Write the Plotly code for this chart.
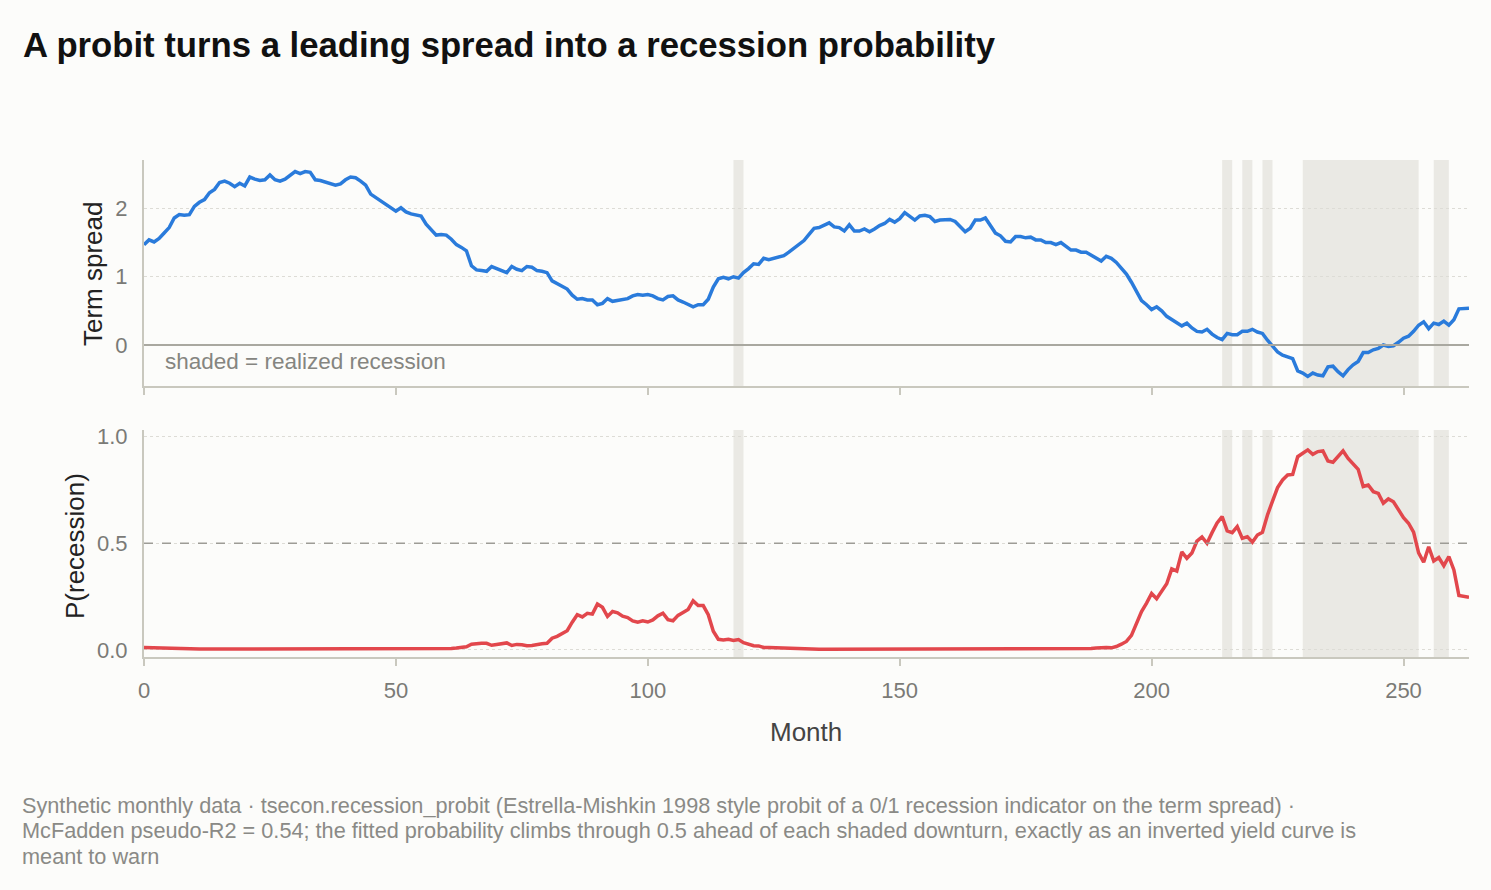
import plotly.graph_objects as go
from plotly.subplots import make_subplots

months = list(range(264))

term_spread = [
    1.47, 1.54, 1.51, 1.56, 1.64, 1.72, 1.86, 1.91, 1.90, 1.91,
    2.03, 2.09, 2.13, 2.23, 2.28, 2.38, 2.40, 2.37, 2.32, 2.37,
    2.33, 2.46, 2.43, 2.41, 2.42, 2.49, 2.42, 2.40, 2.43, 2.48,
    2.54, 2.51, 2.54, 2.53, 2.42, 2.41, 2.39, 2.36, 2.34, 2.36,
    2.42, 2.46, 2.45, 2.40, 2.34, 2.21, 2.16, 2.11, 2.07, 2.01,
    1.96, 2.01, 1.95, 1.92, 1.91, 1.89, 1.77, 1.69, 1.61, 1.62,
    1.61, 1.55, 1.47, 1.43, 1.38, 1.16, 1.10, 1.09, 1.08, 1.15,
    1.12, 1.10, 1.06, 1.15, 1.11, 1.09, 1.15, 1.14, 1.09, 1.08,
    1.06, 0.94, 0.90, 0.87, 0.82, 0.73, 0.67, 0.68, 0.66, 0.66,
    0.59, 0.61, 0.68, 0.64, 0.65, 0.67, 0.68, 0.72, 0.74, 0.73,
    0.74, 0.72, 0.68, 0.66, 0.71, 0.72, 0.66, 0.63, 0.60, 0.56,
    0.59, 0.59, 0.67, 0.85, 0.97, 0.99, 0.97, 1.00, 0.98, 1.06,
    1.12, 1.19, 1.18, 1.27, 1.25, 1.27, 1.28, 1.31, 1.36, 1.42,
    1.48, 1.53, 1.62, 1.71, 1.72, 1.76, 1.79, 1.73, 1.72, 1.67,
    1.76, 1.67, 1.67, 1.70, 1.66, 1.70, 1.75, 1.78, 1.84, 1.80,
    1.85, 1.94, 1.88, 1.83, 1.89, 1.90, 1.88, 1.81, 1.83, 1.84,
    1.84, 1.81, 1.74, 1.66, 1.71, 1.83, 1.83, 1.86, 1.75, 1.64,
    1.60, 1.52, 1.51, 1.59, 1.59, 1.57, 1.58, 1.54, 1.54, 1.50,
    1.50, 1.47, 1.50, 1.45, 1.39, 1.39, 1.36, 1.36, 1.32, 1.28,
    1.23, 1.30, 1.27, 1.21, 1.12, 1.04, 0.92, 0.78, 0.65, 0.59,
    0.52, 0.56, 0.50, 0.42, 0.37, 0.32, 0.28, 0.32, 0.25, 0.20,
    0.19, 0.23, 0.16, 0.11, 0.08, 0.17, 0.15, 0.15, 0.20, 0.20,
    0.23, 0.19, 0.17, 0.07, -0.01, -0.10, -0.15, -0.18, -0.20, -0.38,
    -0.41, -0.46, -0.41, -0.44, -0.45, -0.32, -0.31, -0.39, -0.45, -0.36,
    -0.29, -0.24, -0.11, -0.11, -0.07, -0.05, 0.00, -0.02, -0.01, 0.04,
    0.10, 0.13, 0.20, 0.29, 0.34, 0.24, 0.32, 0.30, 0.35, 0.29,
    0.37, 0.53, 0.53, 0.54,
]

p_recession = [
    0.012, 0.011, 0.011, 0.010, 0.009, 0.008, 0.007, 0.006, 0.006, 0.006,
    0.005, 0.005, 0.005, 0.004, 0.004, 0.004, 0.004, 0.004, 0.004, 0.004,
    0.004, 0.004, 0.004, 0.004, 0.004, 0.004, 0.004, 0.004, 0.004, 0.004,
    0.004, 0.004, 0.004, 0.004, 0.004, 0.004, 0.004, 0.004, 0.004, 0.004,
    0.004, 0.004, 0.004, 0.004, 0.004, 0.004, 0.004, 0.004, 0.004, 0.004,
    0.005, 0.005, 0.005, 0.005, 0.005, 0.005, 0.005, 0.005, 0.006, 0.006,
    0.006, 0.007, 0.009, 0.012, 0.015, 0.027, 0.030, 0.031, 0.031, 0.022,
    0.026, 0.030, 0.033, 0.021, 0.026, 0.024, 0.020, 0.021, 0.027, 0.029,
    0.031, 0.055, 0.064, 0.078, 0.090, 0.130, 0.165, 0.155, 0.172, 0.168,
    0.215, 0.200, 0.157, 0.180, 0.174, 0.158, 0.152, 0.136, 0.130, 0.137,
    0.131, 0.141, 0.160, 0.172, 0.142, 0.137, 0.162, 0.176, 0.190, 0.230,
    0.208, 0.208, 0.165, 0.088, 0.050, 0.047, 0.050, 0.044, 0.049, 0.034,
    0.026, 0.020, 0.019, 0.012, 0.012, 0.011, 0.009, 0.007, 0.005, 0.004,
    0.003, 0.003, 0.003, 0.003, 0.003, 0.003, 0.003, 0.003, 0.003, 0.003,
    0.003, 0.003, 0.003, 0.003, 0.003, 0.003, 0.003, 0.003, 0.003, 0.003,
    0.003, 0.003, 0.003, 0.003, 0.003, 0.003, 0.003, 0.003, 0.003, 0.003,
    0.003, 0.003, 0.003, 0.003, 0.003, 0.003, 0.003, 0.003, 0.003, 0.003,
    0.003, 0.003, 0.003, 0.003, 0.003, 0.003, 0.004, 0.004, 0.004, 0.004,
    0.004, 0.004, 0.004, 0.004, 0.004, 0.004, 0.005, 0.006, 0.007, 0.009,
    0.011, 0.012, 0.010, 0.016, 0.027, 0.040, 0.068, 0.125, 0.180, 0.220,
    0.265, 0.240, 0.273, 0.310, 0.380, 0.370, 0.460, 0.430, 0.455, 0.510,
    0.530, 0.500, 0.550, 0.595, 0.625, 0.558, 0.550, 0.578, 0.523, 0.531,
    0.505, 0.539, 0.552, 0.633, 0.698, 0.761, 0.797, 0.820, 0.823, 0.906,
    0.922, 0.938, 0.917, 0.930, 0.933, 0.886, 0.880, 0.906, 0.933, 0.898,
    0.870, 0.847, 0.766, 0.773, 0.742, 0.734, 0.688, 0.708, 0.695, 0.656,
    0.620, 0.594, 0.552, 0.455, 0.411, 0.484, 0.417, 0.433, 0.395, 0.438,
    0.375, 0.255, 0.253, 0.247,
]

recession_start = [117, 214, 218, 222, 230, 256]
recession_end = [119, 216, 220, 224, 253, 259]

x_ticks = [0, 50, 100, 150, 200, 250]

title_text = "A probit turns a leading spread into a recession probability"
caption_lines = [
    "Synthetic monthly data · tsecon.recession_probit (Estrella-Mishkin 1998 style probit of a 0/1 recession indicator on the term spread) ·",
    "McFadden pseudo-R2 = 0.54; the fitted probability climbs through 0.5 ahead of each shaded downturn, exactly as an inverted yield curve is",
    "meant to warn",
]

BG = "#FCFCFA"
SHADE = "#EAE9E4"
AXIS = "#C9C8BE"
FONT = "Liberation Sans, Arial, Helvetica, sans-serif"

fig = make_subplots(rows=2, cols=1, shared_xaxes=False, vertical_spacing=0.0)

fig.add_trace(go.Scatter(x=months, y=term_spread, mode="lines",
                         line=dict(color="#2A7BDB", width=3.5), showlegend=False,
                         hoverinfo="skip"), row=1, col=1)
fig.add_trace(go.Scatter(x=months, y=p_recession, mode="lines",
                         line=dict(color="#E2474C", width=3.5), showlegend=False,
                         hoverinfo="skip"), row=2, col=1)

shapes = []
for s, e in zip(recession_start, recession_end):
    for xr, yr in [("x", "y domain"), ("x2", "y2 domain")]:
        shapes.append(dict(type="rect", xref=xr, yref=yr, x0=s, x1=e, y0=0, y1=1,
                           fillcolor=SHADE, line=dict(width=0), layer="below"))
shapes.append(dict(type="line", xref="x domain", yref="y", x0=0, x1=1, y0=0, y1=0,
                   line=dict(color="#A9A8A0", width=2), layer="above"))
shapes.append(dict(type="line", xref="x2 domain", yref="y2", x0=0, x1=1, y0=0.5, y1=0.5,
                   line=dict(color="#9D9C96", width=1.6, dash="dash"), layer="above"))

xaxis_common = dict(range=[0, 263], tickvals=x_ticks, showgrid=False, zeroline=False,
                    showline=True, linecolor=AXIS, linewidth=2, ticks="outside",
                    ticklen=7, tickwidth=2, tickcolor=AXIS, ticklabelstandoff=6,
                    tickfont=dict(size=22, color="#7A7A76", family=FONT))

yaxis_common = dict(showgrid=True, gridcolor="#DDDCD6", griddash="dot", gridwidth=1.2,
                    zeroline=False, showline=True, linecolor=AXIS, linewidth=2,
                    ticks="", ticklabelstandoff=10,
                    tickfont=dict(size=22, color="#7A7A76", family=FONT))

PW, PH, L, T = 1325.0, 497.0, 144.0, 160.0
def px(x):
    return (x - L) / PW
def py(y):
    return (T + PH - y) / PH

annotations = [
    dict(text="<b>" + title_text + "</b>", xref="paper", yref="paper",
         x=px(21), y=py(45), xanchor="left", yanchor="middle", showarrow=False,
         font=dict(size=34.7, color="#111111")),
    dict(text="shaded = realized recession", xref="x", yref="y",
         x=3.8, y=-0.24, xanchor="left", yanchor="middle", showarrow=False,
         font=dict(size=22.5, color="#858580")),
    dict(text="Month", xref="paper", yref="paper", x=px(806), y=py(732),
         xanchor="center", yanchor="middle", showarrow=False,
         font=dict(size=26, color="#444444")),
    dict(text="Term spread", xref="paper", yref="paper", x=px(93), y=py(274),
         xanchor="center", yanchor="middle", showarrow=False, textangle=-90,
         font=dict(size=26, color="#222222")),
    dict(text="P(recession)", xref="paper", yref="paper", x=px(75), y=py(546),
         xanchor="center", yanchor="middle", showarrow=False, textangle=-90,
         font=dict(size=26, color="#222222")),
]
for line, yc in zip(caption_lines, [805, 830, 856]):
    annotations.append(dict(text=line, xref="paper", yref="paper", x=px(20), y=py(yc),
                            xanchor="left", yanchor="middle", align="left", showarrow=False,
                            font=dict(size=21.7, color="#8A8A86")))

fig.update_layout(
    width=1491, height=890,
    paper_bgcolor=BG, plot_bgcolor=BG,
    margin=dict(l=144, r=22, t=160, b=233),
    font=dict(family=FONT),
    shapes=shapes,
    xaxis=dict(xaxis_common, domain=[0, 1], anchor="y", showticklabels=False),
    xaxis2=dict(xaxis_common, domain=[0, 1], anchor="y2", matches="x"),
    yaxis=dict(yaxis_common, domain=[0.5453, 1.0], range=[-0.6, 2.71], tickvals=[0, 1, 2]),
    yaxis2=dict(yaxis_common, domain=[0.0, 0.4567], range=[-0.033, 1.031],
                tickvals=[0.0, 0.5, 1.0], ticktext=["0.0", "0.5", "1.0"]),
    annotations=annotations,
)

fig.write_html("out.html")
